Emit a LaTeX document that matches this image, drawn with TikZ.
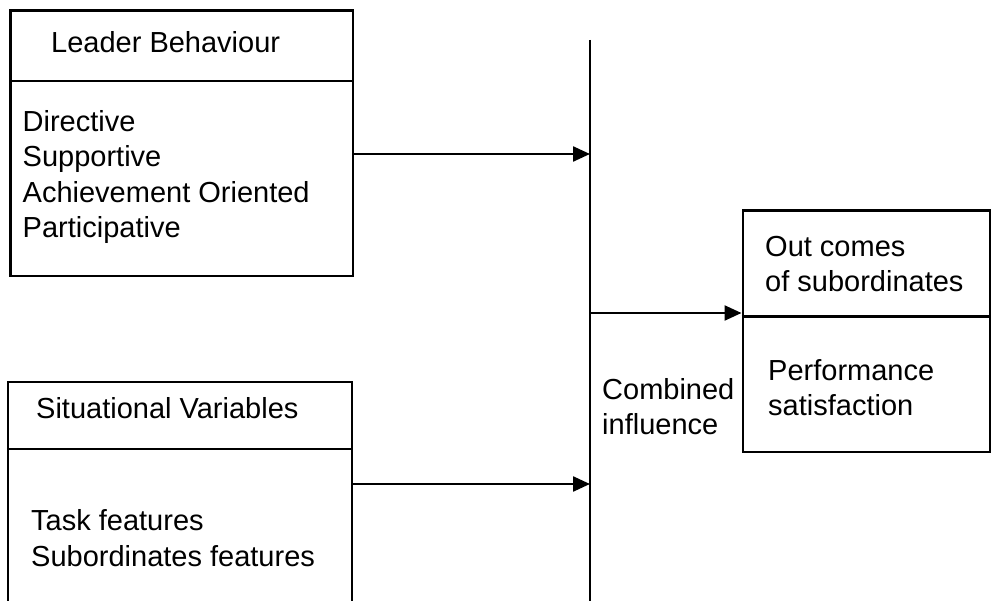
\documentclass[tikz,border=0pt]{standalone}
\usepackage{fontspec}
\setmainfont{Liberation Sans}
\usetikzlibrary{arrows.meta}

\tikzset{
  box/.style={draw,line width=2.4pt,inner sep=0pt},
  lbl/.style={anchor=base west,inner sep=0pt,align=left,
              font=\fontsize{29}{35.5}\selectfont},
}

\begin{document}
\begin{tikzpicture}[x=1pt,y=-1pt,>={Triangle[length=17pt,width=15pt]},
                    line width=2.4pt]
  \path[use as bounding box,clip] (0,0) rectangle (991,601);

  % boxes
  \node[box,minimum width=342.5pt,minimum height=265.3pt] (leader)   at (181.75,143.35) {};
  \node[box,minimum width=344pt,minimum height=268pt]     (situ)     at (180,516) {};
  \node[box,minimum width=247.3pt,minimum height=241.3pt] (outcomes) at (866.35,331.35) {};

  \draw (leader.west |- 0,81)    -- (leader.east |- 0,81);
  \draw (situ.west |- 0,449)     -- (situ.east |- 0,449);
  \draw (outcomes.west |- 0,316.7) -- (outcomes.east |- 0,316.7);

  % texts (base = last line)
  \node[lbl] (leadtitle) at (50,53)    {Leader Behaviour};
  \node[lbl] (leadlist)  at (21.5,238) {Directive\\Supportive\\Achievement Oriented\\Participative};
  \node[lbl] (situtitle) at (35,419)   {Situational Variables};
  \node[lbl] (situlist)  at (30,566)   {Task features\\Subordinates features};
  \node[lbl] (outtitle)  at (764,292)  {Out comes\\of subordinates};
  \node[lbl] (outlist)   at (767,416)  {Performance\\satisfaction};
  \node[lbl] (combined)  at (601,435)  {Combined\\influence};

  % combining line
  \coordinate (vtop)  at (590,40);
  \coordinate (vbot)  at (590,610);
  \coordinate (hit1)  at (590,154);
  \coordinate (hit2)  at (590,484);
  \coordinate (from3) at (590,313);
  \draw (vtop) -- (vbot);

  \draw[->] (leader.east |- hit1) -- (hit1);
  \draw[->] (situ.east |- hit2)   -- (hit2);
  \draw[->] (from3) -- (outcomes.west |- from3);
\end{tikzpicture}
\end{document}
